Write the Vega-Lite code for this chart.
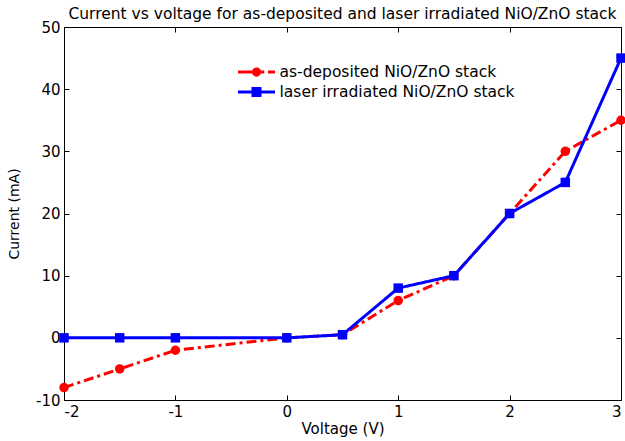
{
  "$schema": "https://vega.github.io/schema/vega-lite/v6.json",
  "width": 557,
  "height": 373,
  "autosize": {"type": "none"},
  "padding": {"left": 64, "top": 27, "right": 4, "bottom": 41},
  "background": "white",
  "config": {
    "font": "DejaVu Sans",
    "view": {"stroke": "black", "strokeWidth": 1},
    "axis": {"grid": false, "domain": false, "tickColor": "black", "labelColor": "black", "titleColor": "black", "labelFont": "DejaVu Sans", "titleFont": "DejaVu Sans", "titleFontWeight": "normal"}
  },
  "title": {"text": "Current vs voltage for as-deposited and laser irradiated NiO/ZnO stack", "fontSize": 15.5, "fontWeight": "normal", "font": "DejaVu Sans", "offset": -2, "anchor": "middle"},
  "data": {"values": [
    {"v": -2, "i": -8, "s": "as-deposited NiO/ZnO stack"},
    {"v": -1.5, "i": -5, "s": "as-deposited NiO/ZnO stack"},
    {"v": -1, "i": -2, "s": "as-deposited NiO/ZnO stack"},
    {"v": 0, "i": 0, "s": "as-deposited NiO/ZnO stack"},
    {"v": 0.5, "i": 0.5, "s": "as-deposited NiO/ZnO stack"},
    {"v": 1, "i": 6, "s": "as-deposited NiO/ZnO stack"},
    {"v": 1.5, "i": 10, "s": "as-deposited NiO/ZnO stack"},
    {"v": 2, "i": 20, "s": "as-deposited NiO/ZnO stack"},
    {"v": 2.5, "i": 30, "s": "as-deposited NiO/ZnO stack"},
    {"v": 3, "i": 35, "s": "as-deposited NiO/ZnO stack"},
    {"v": -2, "i": 0, "s": "laser irradiated NiO/ZnO stack"},
    {"v": -1.5, "i": 0, "s": "laser irradiated NiO/ZnO stack"},
    {"v": -1, "i": 0, "s": "laser irradiated NiO/ZnO stack"},
    {"v": 0, "i": 0, "s": "laser irradiated NiO/ZnO stack"},
    {"v": 0.5, "i": 0.5, "s": "laser irradiated NiO/ZnO stack"},
    {"v": 1, "i": 8, "s": "laser irradiated NiO/ZnO stack"},
    {"v": 1.5, "i": 10, "s": "laser irradiated NiO/ZnO stack"},
    {"v": 2, "i": 20, "s": "laser irradiated NiO/ZnO stack"},
    {"v": 2.5, "i": 25, "s": "laser irradiated NiO/ZnO stack"},
    {"v": 3, "i": 45, "s": "laser irradiated NiO/ZnO stack"}
  ]},
  "layer": [
    {
      "transform": [{"filter": "false"}],
      "mark": {"type": "point", "filled": true},
      "encoding": {
        "x": {"field": "v", "type": "quantitative", "scale": {"domain": [-2, 3], "nice": false, "zero": false}, "axis": {"orient": "top", "values": [-2, -1, 0, 1, 2, 3], "tickSize": -5, "labels": false, "title": null}},
        "y": {"field": "i", "type": "quantitative", "scale": {"domain": [-10, 50], "nice": false, "zero": false}, "axis": {"orient": "right", "values": [-10, 0, 10, 20, 30, 40, 50], "tickSize": -5, "labels": false, "title": null}},
        "color": {"field": "s", "type": "nominal", "scale": {"domain": ["as-deposited NiO/ZnO stack", "laser irradiated NiO/ZnO stack"], "range": ["#ff0000", "#0000ff"]},
                  "legend": {"title": null, "orient": "none", "legendX": 182.5, "legendY": 35, "labelFontSize": 15.5, "labelColor": "black", "labelLimit": 400, "symbolSize": 400, "symbolStrokeWidth": 0, "symbolOpacity": 1, "rowPadding": 1, "labelOffset": 13,
                             "encode": {"symbols": {"update": {"opacity": {"value": 1}, "strokeWidth": {"value": 0}}}}}},
        "shape": {"field": "s", "type": "nominal", "scale": {"domain": ["as-deposited NiO/ZnO stack", "laser irradiated NiO/ZnO stack"], "range": [
          "M-1.85,-0.148L-0.4625,-0.148L-0.4625,0.148L-1.85,0.148Z M0.4625,0A0.4625,0.4625 0 1,1 -0.4625,0A0.4625,0.4625 0 1,1 0.4625,0Z M0.4625,-0.148L0.777,-0.148L0.777,0.148L0.4625,0.148Z M1.147,-0.148L1.85,-0.148L1.85,0.148L1.147,0.148Z",
          "M-1.85,-0.148L-0.5,-0.148L-0.5,-0.5L0.5,-0.5L0.5,-0.148L1.85,-0.148L1.85,0.148L0.5,0.148L0.5,0.5L-0.5,0.5L-0.5,0.148L-1.85,0.148Z"
        ]}}
      }
    },
    {
      "mark": {"type": "line", "strokeWidth": 3, "clip": false},
      "encoding": {
        "x": {"field": "v", "type": "quantitative",
              "axis": {"title": "Voltage (V)", "values": [-2, -1, 0, 1, 2, 3], "tickSize": -5, "labelPadding": 9, "labelFontSize": 15, "titleFontSize": 15, "titlePadding": 2, "labelExpr": "'' + datum.value"}},
        "y": {"field": "i", "type": "quantitative",
              "axis": {"title": "Current (mA)", "values": [-10, 0, 10, 20, 30, 40, 50], "tickSize": -5, "labelPadding": 9, "labelFontSize": 15, "titleFontSize": 14, "titlePadding": 14, "labelExpr": "'' + datum.value"}},
        "color": {"field": "s", "type": "nominal"},
        "strokeDash": {"field": "s", "type": "nominal", "scale": {"domain": ["as-deposited NiO/ZnO stack", "laser irradiated NiO/ZnO stack"], "range": [[10, 4, 3, 4], [1, 0]]}, "legend": null}
      }
    },
    {
      "transform": [{"filter": "datum.s === 'as-deposited NiO/ZnO stack'"}],
      "mark": {"type": "point", "filled": true, "opacity": 1, "clip": false, "shape": "circle", "color": "#ff0000", "size": 90},
      "encoding": {
        "x": {"field": "v", "type": "quantitative", "axis": null},
        "y": {"field": "i", "type": "quantitative", "axis": null}
      }
    },
    {
      "transform": [{"filter": "datum.s === 'laser irradiated NiO/ZnO stack'"}],
      "mark": {"type": "point", "filled": true, "opacity": 1, "clip": false, "shape": "square", "color": "#0000ff", "size": 90},
      "encoding": {
        "x": {"field": "v", "type": "quantitative", "axis": null},
        "y": {"field": "i", "type": "quantitative", "axis": null}
      }
    }
  ],
  "resolve": {"axis": {"x": "independent", "y": "independent"}}
}
